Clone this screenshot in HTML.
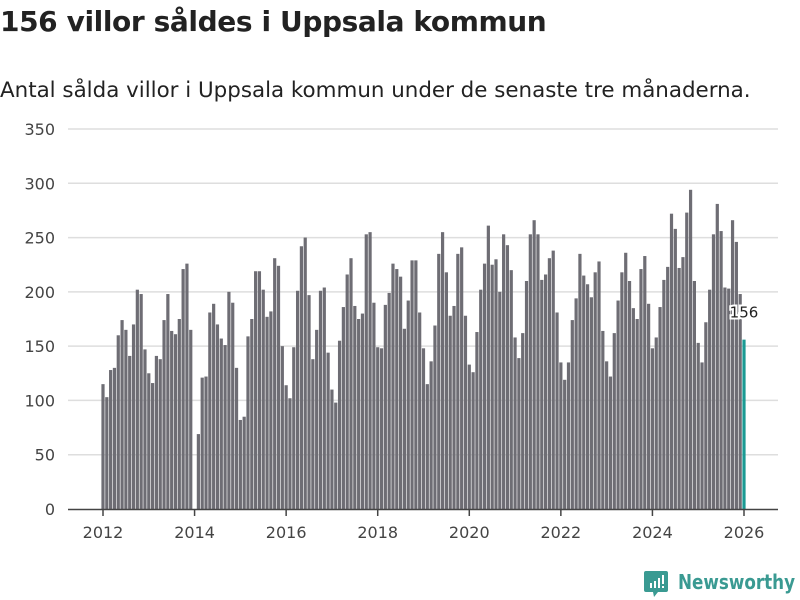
<!DOCTYPE html>
<html><head><meta charset="utf-8"><style>
body{margin:0;background:#fff;width:800px;height:600px;overflow:hidden;font-family:"DejaVu Sans","Liberation Sans",sans-serif;color:#222}
h1{position:absolute;left:0;top:5px;margin:0;font-size:28px;font-weight:bold;letter-spacing:-0.4px}
.sub{position:absolute;left:0;top:78px;font-size:21.4px;margin:0}
svg{position:absolute;left:0;top:0}
</style></head><body>
<h1>156 villor såldes i Uppsala kommun</h1>
<p class="sub">Antal sålda villor i Uppsala kommun under de senaste tre månaderna.</p>
<svg id="c" width="800" height="600"></svg>
<script>
const startYear = 2012;
const values = [115,103,128,130,160,174,165,141,170,202,198,147,
125,116,141,138,174,198,164,161,175,221,226,165,
null,69,121,122,181,189,170,157,151,200,190,130,
82,85,159,175,219,219,202,177,182,231,224,150,
114,102,149,201,242,250,197,138,165,201,204,144,
110,98,155,186,216,231,187,175,180,253,255,190,
149,148,188,199,226,221,214,166,192,229,229,181,
148,115,136,169,235,255,218,178,187,235,241,178,
133,126,163,202,226,261,225,230,200,253,243,220,
158,139,162,210,253,266,253,211,216,231,238,181,
135,119,135,174,194,235,215,207,195,218,228,164,
136,122,162,192,218,236,210,185,175,221,233,189,
148,158,186,211,223,272,258,222,232,273,294,210,
153,135,172,202,253,281,256,204,203,266,246,198,156];
const yTicks = [0,50,100,150,200,250,300,350];
const xTicks = [2012,2014,2016,2018,2020,2022,2024,2026];
const NS='http://www.w3.org/2000/svg';
const svg=document.getElementById('c');
const y=v=>509-v*(380/350);
const x=m=>103+m*(641/168);
function mk(t,a,p){const e=document.createElementNS(NS,t);for(const k in a)e.setAttribute(k,a[k]);(p||svg).appendChild(e);return e;}
yTicks.forEach(v=>{
  if(v>0){const l=mk('line',{x1:68,x2:778,y1:y(v),y2:y(v),stroke:'#dedede','stroke-width':1.5});
  
  }
  const t=mk('text',{x:55,y:y(v)+6,'text-anchor':'end','font-size':16,fill:'#444','font-family':'DejaVu Sans, Liberation Sans, sans-serif'});
  t.textContent=v;
  
  
});
values.forEach((v,i)=>{
  if(v==null)return;
  const last=i===values.length-1;
  const r=mk('rect',{x:x(i)-1.6,y:y(v),width:3.2,height:509-y(v),fill:last?'#1a9a93':'#6e6d74'});
  
  
});
const ax=mk('line',{x1:68,x2:778,y1:509.5,y2:509.5,stroke:'#444','stroke-width':1.5});


xTicks.forEach(yr=>{
  const px=x((yr-startYear)*12);
  const tk=mk('line',{x1:px,x2:px,y1:509,y2:516,stroke:'#444','stroke-width':1.5});
  
  
  const t=mk('text',{x:px,y:538,'text-anchor':'middle','font-size':16,fill:'#444','font-family':'DejaVu Sans, Liberation Sans, sans-serif'});
  t.textContent=yr;
  
  
});
const li=values.length-1;
const lb=mk('text',{x:x(li),y:y(values[li])-22,'text-anchor':'middle','font-size':15,fill:'#222',stroke:'#fff','stroke-width':4,'paint-order':'stroke','font-family':'DejaVu Sans, Liberation Sans, sans-serif'});
lb.textContent=values[li];


</script>
<svg width="800" height="600" style="position:absolute;left:0;top:0">
<path d="M646 571 h20 a2 2 0 0 1 2 2 v17 a2 2 0 0 1 -2 2 h-8 l-4 5 l-1 -5 h-7 a2 2 0 0 1 -2 -2 v-17 a2 2 0 0 1 2 -2z" fill="#3a9a92"/>
<rect x="650" y="583" width="2" height="5" fill="#fff"/><rect x="654" y="581" width="2" height="7" fill="#fff"/><rect x="658" y="578" width="2" height="10" fill="#fff"/><rect x="662" y="575" width="2" height="9" fill="#fff"/><rect x="662" y="586" width="2" height="2" fill="#fff"/>
<text x="678" y="589" font-size="20" font-weight="bold" fill="#3a9a92" font-family="DejaVu Sans, Liberation Sans, sans-serif" textLength="117" lengthAdjust="spacingAndGlyphs">Newsworthy</text>
</svg>
</body></html>
